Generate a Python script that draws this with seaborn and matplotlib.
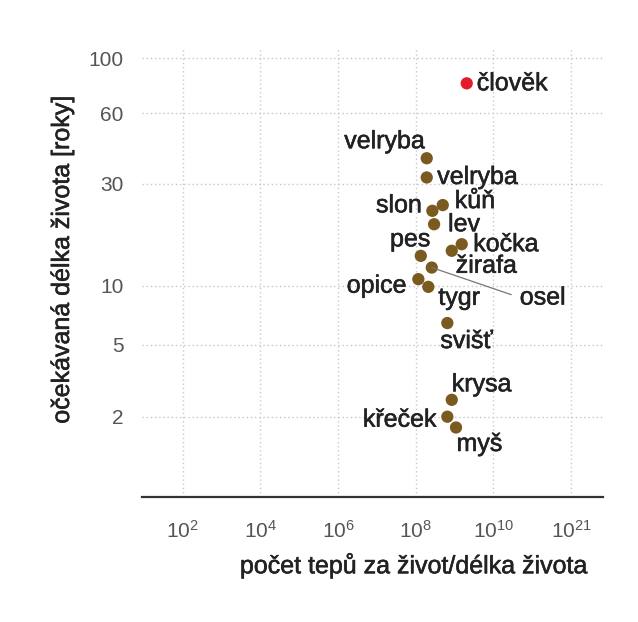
import numpy as np
import pandas as pd
import matplotlib
matplotlib.use("Agg")
import matplotlib.pyplot as plt
import matplotlib.patheffects as pe
import seaborn as sns

# ---- data ----
animals = ["člověk", "velryba", "velryba", "kůň", "slon", "lev", "kočka", "žirafa",
           "pes", "osel", "opice", "tygr", "svišť", "krysa", "křeček", "myš"]
heartbeats = [2.06e9, 1.92e8, 1.92e8, 4.97e8, 2.68e8, 2.97e8, 1.53e9, 8.47e8,
              1.35e8, 2.59e8, 1.17e8, 2.11e8, 6.52e8, 8.47e8, 6.52e8, 1.09e9]
lifespan = [79.5, 38.8, 32.0, 24.1, 22.7, 19.7, 15.9, 14.8,
            14.0, 12.3, 10.8, 9.9, 6.5, 2.5, 2.0, 1.73]
group = ["human"] + ["animal"] * 15

x_ticks = [1e2, 1e4, 1e6, 1e8, 1e10, 1e12]
x_tick_labels = ["$10^{2}$", "$10^{4}$", "$10^{6}$", "$10^{8}$", "$10^{10}$", "$10^{21}$"]
y_ticks = [2, 5, 10, 30, 60, 100]
y_tick_labels = ["2", "5", "10", "30", "60", "100"]

# label placement: (dx px, dy px, horizontal alignment)
label_pos = [(10, 0, "left"), (-2, 17, "right"), (10.5, 0.5, "left"), (12, 4, "left"),
             (-10.5, 5.5, "right"), (14, 0, "left"), (11.5, 0, "left"), (4, -15, "left"),
             (9.5, 16.5, "right"), (88, -30, "left"), (-12, -6.5, "right"), (10, -11, "left"),
             (-7, -18, "left"), (0, 15.5, "left"), (-11, -3, "right"), (0.5, -16.5, "left")]

df = pd.DataFrame({"animal": animals, "beats": heartbeats, "life": lifespan, "group": group})

sns.set_theme(style="white")
plt.rcParams["font.family"] = ["Liberation Sans", "DejaVu Sans"]
plt.rcParams["mathtext.default"] = "regular"

bold_fx = [pe.withStroke(linewidth=0.4, foreground="#222222")]

fig = plt.figure(figsize=(6.38, 6.22), dpi=100)
ax = fig.add_axes([0.2221, 0.2014, 0.7235, 0.7214])

ax.set_xscale("log")
ax.set_yscale("function", functions=(lambda v: np.power(np.clip(v, 1e-9, None), 0.1),
                                     lambda v: np.power(np.clip(v, 0, None), 10.0)))

sns.scatterplot(data=df, x="beats", y="life", hue="group",
                palette={"human": "#e41b2b", "animal": "#7a5a1e"},
                s=78, linewidth=0, legend=False, ax=ax, zorder=3)

ax.set_xlim(10 ** 0.944, 10 ** 12.83)
ax.set_ylim(0.646, 109.6)

ax.set_xticks(x_ticks)
ax.set_xticklabels(x_tick_labels)
ax.xaxis.set_minor_locator(matplotlib.ticker.NullLocator())
ax.set_yticks(y_ticks)
ax.set_yticklabels(y_tick_labels)
ax.yaxis.set_minor_locator(matplotlib.ticker.NullLocator())
ax.tick_params(axis="both", length=0, labelsize=15, labelcolor="#555555")
ax.tick_params(axis="y", pad=13)
ax.tick_params(axis="x", pad=17)

ax.grid(True, color="#c8c8c8", linestyle=(0, (1, 2)), linewidth=1.0, zorder=0)
for side in ["left", "right", "top"]:
    ax.spines[side].set_visible(False)
ax.spines["bottom"].set_color("#333333")
ax.spines["bottom"].set_linewidth(1.6)

for name, xv, yv, (dx, dy, ha) in zip(animals, heartbeats, lifespan, label_pos):
    if name == "osel":
        ax.annotate(name, (xv, yv), xytext=(dx, dy), textcoords="offset pixels",
                    ha=ha, va="center", fontsize=18, color="#222222", path_effects=bold_fx,
                    arrowprops=dict(arrowstyle="-", color="#777777", lw=0.9,
                                    shrinkA=4, shrinkB=0, relpos=(0, 0.5)))
    else:
        ax.annotate(name, (xv, yv), xytext=(dx, dy), textcoords="offset pixels",
                    ha=ha, va="center", fontsize=18, color="#222222", path_effects=bold_fx)

ax.set_xlabel("počet tepů za život/délka života", fontsize=18, color="#222222",
              ha="right", va="center", path_effects=bold_fx)
ax.xaxis.set_label_coords(0.964, -0.152)
ax.set_ylabel("očekávaná délka života [roky]", fontsize=18, color="#222222",
              ha="center", va="center", path_effects=bold_fx)
ax.yaxis.set_label_coords(-0.1727, 0.5275)

fig.savefig("out.png", dpi=100, facecolor="white")
